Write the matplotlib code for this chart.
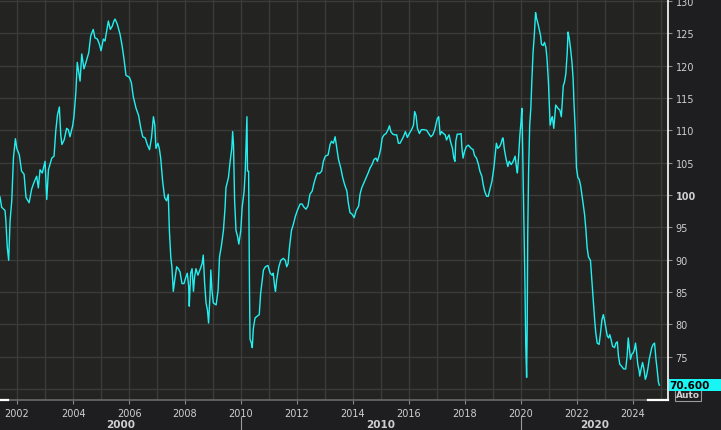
import matplotlib
matplotlib.use("Agg")
import matplotlib.pyplot as plt
import matplotlib.transforms as mtransforms
from matplotlib.patches import Rectangle
from matplotlib.lines import Line2D

# decimal years and index values
dates = [
    2001.39, 2001.45, 2001.57, 2001.60, 2001.65, 2001.70, 2001.75, 2001.81, 2001.87, 2001.94,
    2001.99, 2002.08, 2002.16, 2002.25, 2002.32, 2002.43, 2002.52, 2002.60, 2002.70, 2002.76,
    2002.82, 2002.90, 2003.00, 2003.06, 2003.12, 2003.24, 2003.32, 2003.38, 2003.44, 2003.51,
    2003.56, 2003.60, 2003.68, 2003.77, 2003.83, 2003.89, 2003.99, 2004.03, 2004.10, 2004.15,
    2004.20, 2004.25, 2004.31, 2004.39, 2004.46, 2004.56, 2004.63, 2004.72, 2004.78, 2004.87,
    2004.94, 2005.00, 2005.08, 2005.14, 2005.20, 2005.26, 2005.33, 2005.40, 2005.46,
    2005.50, 2005.58, 2005.68, 2005.75, 2005.82, 2005.89, 2006.01, 2006.08, 2006.15, 2006.25,
    2006.34, 2006.42, 2006.49, 2006.58, 2006.65, 2006.73, 2006.80, 2006.87, 2006.92, 2006.96,
    2007.03, 2007.08, 2007.13, 2007.20, 2007.27, 2007.34, 2007.40, 2007.44, 2007.49, 2007.53,
    2007.58, 2007.63, 2007.70, 2007.76, 2007.82, 2007.89, 2007.96, 2008.03, 2008.08, 2008.13,
    2008.15, 2008.20, 2008.25, 2008.30, 2008.34, 2008.39, 2008.46, 2008.53, 2008.61, 2008.65,
    2008.70, 2008.75, 2008.80, 2008.84, 2008.89, 2008.92, 2008.96, 2009.01, 2009.11, 2009.18,
    2009.23, 2009.30,
    2009.37, 2009.43, 2009.46, 2009.55, 2009.61, 2009.67, 2009.70, 2009.73, 2009.77, 2009.82,
    2009.88, 2009.92, 2009.99, 2010.04, 2010.11, 2010.15, 2010.19, 2010.21, 2010.23, 2010.27,
    2010.30, 2010.32, 2010.37, 2010.40, 2010.44, 2010.50, 2010.56, 2010.65, 2010.70, 2010.75,
    2010.80, 2010.87, 2010.96, 2011.04, 2011.11, 2011.15, 2011.20, 2011.23, 2011.27, 2011.35,
    2011.42, 2011.51, 2011.58, 2011.63, 2011.68, 2011.73, 2011.80, 2011.87, 2011.94, 2012.01,
    2012.11, 2012.18, 2012.25, 2012.32, 2012.39, 2012.46, 2012.54, 2012.61, 2012.68, 2012.73,
    2012.80, 2012.88, 2012.94, 2013.01, 2013.11, 2013.18, 2013.23, 2013.30,
    2013.36, 2013.42, 2013.48, 2013.56, 2013.63, 2013.70, 2013.78, 2013.83, 2013.89, 2013.97,
    2014.04, 2014.11, 2014.20, 2014.25, 2014.31, 2014.39, 2014.47, 2014.54, 2014.61, 2014.68,
    2014.75, 2014.82, 2014.87, 2014.94, 2014.99, 2015.04, 2015.11, 2015.18, 2015.25, 2015.30,
    2015.35, 2015.42, 2015.49, 2015.56, 2015.62, 2015.68, 2015.74, 2015.80, 2015.87, 2015.94,
    2016.01, 2016.09, 2016.16, 2016.20, 2016.25, 2016.30, 2016.37, 2016.44, 2016.54, 2016.63,
    2016.70, 2016.78, 2016.85, 2016.92, 2016.97, 2017.01, 2017.06, 2017.11, 2017.16, 2017.23,
    2017.29,
    2017.34, 2017.39, 2017.43, 2017.48, 2017.55, 2017.60, 2017.64, 2017.67, 2017.72, 2017.81,
    2017.86, 2017.89, 2017.93, 2017.98, 2018.05, 2018.12, 2018.22, 2018.29, 2018.34, 2018.41,
    2018.48, 2018.53, 2018.60, 2018.65, 2018.70, 2018.77, 2018.83, 2018.89, 2018.96, 2019.03,
    2019.10, 2019.12, 2019.17, 2019.24, 2019.29, 2019.34, 2019.36, 2019.40, 2019.46, 2019.53,
    2019.58, 2019.65, 2019.72, 2019.79, 2019.84, 2019.87, 2019.91, 2019.96, 2020.00, 2020.03,
    2020.05, 2020.10, 2020.14, 2020.17, 2020.20, 2020.22, 2020.24, 2020.27, 2020.31, 2020.35,
    2020.39, 2020.43, 2020.48, 2020.52, 2020.55, 2020.60, 2020.65, 2020.70, 2020.73, 2020.79,
    2020.84, 2020.89, 2020.93, 2020.98, 2021.02, 2021.04, 2021.09, 2021.12, 2021.17,
    2021.24, 2021.32, 2021.39, 2021.44, 2021.48, 2021.51, 2021.55, 2021.60, 2021.65, 2021.68,
    2021.72, 2021.77, 2021.82, 2021.86, 2021.89, 2021.94, 2021.96, 2021.98, 2022.03, 2022.08,
    2022.13, 2022.17, 2022.22, 2022.27, 2022.32, 2022.36, 2022.41, 2022.48, 2022.53, 2022.58,
    2022.63, 2022.67, 2022.72, 2022.79, 2022.84, 2022.89, 2022.94, 2022.98, 2023.03, 2023.08,
    2023.13, 2023.17, 2023.22, 2023.27, 2023.34, 2023.39, 2023.44, 2023.48, 2023.53, 2023.58,
    2023.63, 2023.67, 2023.74, 2023.79, 2023.83, 2023.86, 2023.91, 2023.96, 2024.01, 2024.05,
    2024.09, 2024.13, 2024.17, 2024.22, 2024.24, 2024.29, 2024.34, 2024.39, 2024.44, 2024.48,
    2024.53, 2024.58, 2024.63, 2024.67, 2024.72, 2024.77, 2024.82, 2024.86, 2024.91, 2024.94,
]
values = [
    99.7, 98.1, 97.6, 96.0, 91.9, 89.9, 96.0, 99.1, 105.7, 108.7,
    107.2, 106.2, 103.7, 103.2, 99.6, 98.8, 100.9, 101.9, 102.9, 101.1,
    103.9, 103.4, 105.2, 99.3, 103.9, 105.7, 106.0, 109.8, 112.3, 113.6,
    109.3, 107.8, 108.5, 110.3, 110.1, 109.0, 110.8, 112.1, 115.9, 120.5,
    119.0, 117.6, 121.8, 119.5, 120.5, 122.0, 124.6, 125.6, 124.3, 124.1,
    123.3, 122.3, 124.1, 123.8, 125.4, 126.9, 125.6, 126.1, 126.9,
    127.2, 126.4, 124.8, 123.1, 121.0, 118.5, 118.2, 117.4, 115.2, 113.4,
    112.3, 110.3, 109.0, 108.8, 107.8, 107.0, 108.8, 112.1, 110.8, 107.2,
    108.0, 107.2, 105.7, 102.1, 99.6, 99.1, 100.1, 94.5, 90.4, 88.9,
    85.1, 86.8, 88.9, 88.6, 88.1, 86.3, 86.3, 87.3, 87.9, 85.8,
    82.8, 87.9, 88.6, 85.1, 87.3, 88.6, 87.6, 88.4, 89.4, 90.7,
    86.3, 83.3, 82.2, 80.2, 84.3, 88.4, 85.3, 83.3, 83.0, 85.3,
    90.4, 92.2,
    94.5, 98.1, 101.1, 102.7, 105.2, 107.2, 109.8, 107.8, 99.1, 94.5,
    93.5, 92.4, 94.5, 98.1, 100.6, 103.7, 109.3, 112.1, 103.7, 103.7,
    86.3, 77.7, 77.1, 76.4, 79.4, 81.0, 81.2, 81.5, 84.8, 86.6,
    88.4, 88.9, 89.1, 87.9, 87.6, 87.9, 85.8, 85.1, 86.8, 88.9,
    89.9, 90.2, 89.9, 88.9, 89.4, 91.9, 94.5, 95.5, 96.7, 97.6,
    98.6, 98.6, 98.1, 97.8, 98.3, 100.1, 100.6, 101.9, 102.9, 103.4,
    103.3, 103.7, 105.2, 106.0, 106.2, 107.8, 108.3, 108.0,
    109.0, 107.2, 105.5, 104.2, 102.7, 101.6, 100.6, 98.8, 97.3, 97.0,
    96.5, 97.6, 98.3, 100.1, 101.1, 101.9, 102.7, 103.4, 104.2, 104.7,
    105.5, 105.7, 105.2, 106.2, 107.2, 108.8, 109.3, 109.5, 110.1, 110.7,
    109.8, 109.4, 109.3, 109.3, 108.0, 108.0, 108.5, 109.0, 109.8, 108.9,
    109.5, 110.1, 110.8, 112.9, 112.3, 110.3, 109.5, 110.1, 110.1, 110.0,
    109.5, 109.0, 109.3, 110.1, 111.1, 111.8, 112.1, 109.3, 109.8, 109.5,
    109.3,
    108.5, 109.0, 109.3, 108.3, 107.2, 105.7, 105.2, 108.3, 109.4, 109.4,
    109.5, 107.2, 105.7, 106.7, 107.5, 107.7, 107.2, 107.0, 106.1, 105.7,
    104.7, 103.7, 102.9, 101.6, 100.6, 99.8, 99.8, 100.9, 102.1, 104.2,
    107.2, 108.0, 107.2, 107.5, 108.0, 108.8, 108.8, 107.2, 105.7, 104.4,
    105.2, 104.7, 105.2, 106.0, 104.2, 103.4, 105.7, 109.3, 111.3, 113.4,
    109.3, 96.5, 86.3, 76.6, 71.8, 79.2, 94.0, 103.4, 110.8, 113.4,
    118.0, 122.0, 125.1, 128.2, 127.4, 126.6, 125.6, 124.6, 123.3, 123.1,
    123.6, 122.8, 121.0, 117.4, 113.1, 110.8, 111.8, 112.1, 110.3,
    113.9, 113.4, 113.1, 112.1, 114.9, 116.9, 117.4, 118.7, 122.0, 125.2,
    124.3, 122.6, 120.5, 118.0, 114.4, 109.8, 107.2, 104.2, 102.7, 102.4,
    101.4, 100.1, 98.6, 97.0, 94.5, 91.9, 90.4, 89.9, 86.8, 83.8,
    80.7, 78.7, 77.1, 76.9, 78.7, 80.7, 81.5, 80.7, 79.4, 78.2,
    77.9, 78.4, 77.6, 76.6, 76.4, 77.1, 77.3, 75.1, 73.8, 73.6,
    73.3, 73.1, 73.1, 75.1, 77.9, 76.6, 74.6, 75.4, 75.6, 76.1,
    77.1, 75.6, 73.8, 72.8, 72.0, 73.1, 74.1, 73.1, 71.5, 72.0,
    73.1, 74.6, 75.6, 76.4, 76.9, 77.1, 74.6, 73.1, 71.0, 70.6,
]

year_ticks = list(range(2002, 2025, 2))
decades = ["2000", "2010", "2020"]
y_ticks = list(range(70, 131, 5))
last_label = "70.600"

BG_FIG = "#1e1e20"
BG_AX = "#232422"
GRID = "#3a3b3a"
TXT = "#cfcfcf"
LINE = "#22f0f0"

plt.rcParams["font.family"] = ["DejaVu Sans"]

fig = plt.figure(figsize=(7.21, 4.31), dpi=100, facecolor=BG_FIG)
W, H = 721.0, 431.0
ax = fig.add_axes([0, 30 / H, 668 / W, 401 / H])
ax.set_facecolor(BG_AX)

ax.plot(dates, values, color=LINE, lw=1.0, zorder=3)

x0, x1 = 2001.39, 2025.25
ax.set_xlim(x0, x1)
ax.set_ylim(68.3, 130.3)

# y axis on the right
ax.yaxis.tick_right()
ax.set_yticks(y_ticks)
ylabels = ["" if t == 70 else str(t) for t in y_ticks]
ax.set_yticklabels(ylabels)
for lab in ax.get_yticklabels():
    if lab.get_text() == "100":
        lab.set_fontweight("bold")
ax.tick_params(axis="y", colors="#8a8a8a", labelcolor=TXT, labelsize=7,
               length=3, width=0.8, pad=2.5, direction="out")

# x axis
ax.set_xticks(year_ticks)
ax.set_xticks(list(range(2002, 2026)), minor=True)
ax.set_xticklabels([str(y) for y in year_ticks])
ax.tick_params(axis="x", which="major", colors="#8a8a8a", labelcolor=TXT, labelsize=7,
               length=3, width=0.8, pad=2.5, direction="out")
ax.tick_params(axis="x", which="minor", length=0)

ax.grid(True, which="both", color=GRID, lw=1.0, zorder=0)
ax.set_axisbelow(True)

for s in ["left", "top"]:
    ax.spines[s].set_visible(False)
ax.spines["right"].set_color("white")
ax.spines["right"].set_linewidth(1.2)
ax.spines["bottom"].set_color("#6a6a6a")
ax.spines["bottom"].set_linewidth(1.2)

# white ends of the bottom bar
for a, b in [(0, 8 / 668), (648 / 668, 1)]:
    ax.add_line(Line2D([a, b], [0, 0], transform=ax.transAxes, color="white",
                       lw=1.6, clip_on=False, zorder=5))

# decade row
trans = mtransforms.blended_transform_factory(ax.transData, ax.transAxes)
bounds = [x0, 2010, 2020, x1]
for i, d in enumerate(decades):
    mid = (bounds[i] + bounds[i + 1]) / 2
    ax.text(mid, -0.060, d, transform=trans, ha="center", va="center",
            fontsize=7.5, fontweight="bold", color=TXT, clip_on=False)
for b in [2010, 2020]:
    ax.add_line(Line2D([b, b], [-0.043, -0.08], transform=trans, color="#9a9a9a",
                       lw=0.8, clip_on=False))

# last value box and the Auto button
fig.text(676 / W, (431 - 396) / H, "Auto", ha="left", va="center", fontsize=6.5,
         fontweight="bold", color=TXT,
         bbox=dict(boxstyle="square,pad=0.15", fc=BG_FIG, ec="#9a9a9a", lw=0.8))
fig.patches.append(Rectangle((669 / W, (431 - 392) / H), 52 / W, 12 / H,
                             transform=fig.transFigure, facecolor="#19f5f5",
                             edgecolor="none", zorder=10))
fig.text(669 / W, (431 - 386) / H, last_label, ha="left", va="center", fontsize=7.5,
         fontweight="bold", color="black", zorder=11)

fig.savefig("out.png", dpi=100, facecolor=BG_FIG)
